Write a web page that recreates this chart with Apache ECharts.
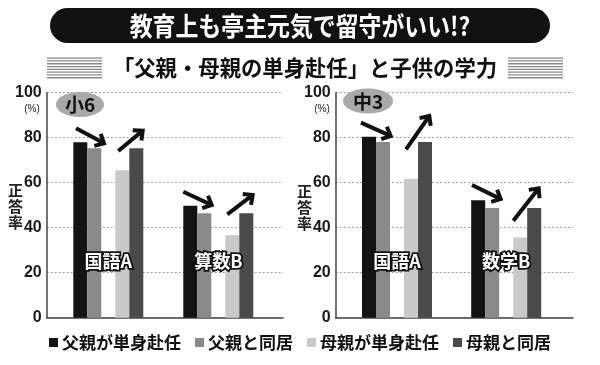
<!DOCTYPE html>
<html>
<head>
<meta charset="utf-8">
<script src="https://cdn.jsdelivr.net/npm/echarts@6/dist/echarts.min.js"></script>
<style>
html,body{margin:0;padding:0;background:#fff;}
#c{width:600px;height:365px;}
</style>
</head>
<body>
<div id="c"></div>
<script>
// ---- data ----
const titleText = '教育上も亭主元気で留守がいい!?';
const subtitleText = '「父親・母親の単身赴任」と子供の学力';
const primaryLabel = '小6';
const middleLabel = '中3';
const primaryCategories = ['国語A', '算数B'];
const middleCategories = ['国語A', '数学B'];
const seriesNames = ['父親が単身赴任', '父親と同居', '母親が単身赴任', '母親と同居'];
const primaryFatherAway = [78.0, 49.8];
const primaryFatherHome = [75.3, 46.4];
const primaryMotherAway = [65.5, 36.6];
const primaryMotherHome = [75.3, 46.4];
const middleFatherAway = [80.4, 52.2];
const middleFatherHome = [78.1, 48.8];
const middleMotherAway = [61.8, 35.7];
const middleMotherHome = [78.1, 48.8];
const yTicks = [0, 20, 40, 60, 80, 100];
const yAxisTitle = '正答率';
const unitText = '(%)';

// ---- styles ----
const colors = ['#131313', '#898989', '#c9c9c9', '#4a4a4a'];
const JP = '"Noto Sans CJK JP", "Noto Sans", sans-serif';
const NUM = '"Liberation Sans Narrow", "Liberation Sans", Arial, sans-serif';

const chart = echarts.init(document.getElementById('c'), null, {renderer: 'canvas'});

const TOP = 92.7, HEIGHT = 225;

function frameX(gi) {
  return {
    gridIndex: gi, type: 'value', min: 0, max: 1,
    axisLine: {show: true, onZero: false, lineStyle: {color: '#444', width: 1.5}},
    axisTick: {show: false}, axisLabel: {show: false}, splitLine: {show: false}
  };
}
function frameY(gi) {
  return {
    gridIndex: gi, type: 'value', min: yTicks[0], max: yTicks[yTicks.length - 1], interval: yTicks[1] - yTicks[0],
    axisLine: {show: true, lineStyle: {color: '#444', width: 1.5}},
    axisTick: {show: false},
    axisLabel: {show: true, margin: 5, color: '#1a1a1a', fontFamily: NUM, fontWeight: 'bold', fontSize: 16},
    splitLine: {show: true, lineStyle: {color: '#9a9a9a', type: [2, 2], width: 1}}
  };
}
function barX(gi, cats) {
  return {
    gridIndex: gi, type: 'category', data: cats, z: 10,
    axisLine: {show: false}, axisTick: {show: false}, splitLine: {show: false},
    offset: -66,
    axisLabel: {show: true, margin: 0, color: '#fff', fontFamily: JP, fontWeight: 'bold', fontSize: 18,
      textBorderColor: '#111', textBorderWidth: 3.5}
  };
}
function barY(gi) {
  return {gridIndex: gi, type: 'value', min: 0, max: 100, show: false, splitLine: {show: false}};
}

function makeSeries(axisIdx, arrays) {
  const out = [];
  const order = [0, 1, -1, 2, 3];
  order.forEach(k => {
    if (k < 0) {
      out.push({type: 'bar', name: 'spacer', xAxisIndex: axisIdx, yAxisIndex: axisIdx,
        data: arrays[0].map(() => null), barWidth: 14, barGap: '0%', silent: true,
        itemStyle: {color: 'transparent'}});
    } else {
      out.push({type: 'bar', name: seriesNames[k], xAxisIndex: axisIdx, yAxisIndex: axisIdx,
        data: arrays[k], barWidth: 14, barGap: '0%', itemStyle: {color: colors[k]}});
    }
  });
  return out;
}

function arrow(x1, y1, x2, y2) {
  const a = Math.atan2(y2 - y1, x2 - x1);
  const L = 10, w = 0.75;
  const h1 = [x2 - L * Math.cos(a - w), y2 - L * Math.sin(a - w)];
  const h2 = [x2 - L * Math.cos(a + w), y2 - L * Math.sin(a + w)];
  return [
    {type: 'polyline', shape: {points: [[x1, y1], [x2 - 1.5 * Math.cos(a), y2 - 1.5 * Math.sin(a)]]},
      style: {stroke: '#111', lineWidth: 4, fill: null}, z: 100},
    {type: 'polyline', shape: {points: [h1, [x2, y2], h2]},
      style: {stroke: '#111', lineWidth: 4, fill: null, lineJoin: 'miter', lineCap: 'butt'}, z: 100}
  ];
}

function stripes(x, w) {
  const g = [];
  for (let i = 0; i < 8; i++) {
    g.push({type: 'rect', shape: {x: x, y: 57.5 + i * 2.8, width: w, height: 1.3},
      style: {fill: '#8a8a8a'}});
  }
  return g;
}

const graphics = [
  {type: 'rect', shape: {x: 50, y: 8, width: 500, height: 35, r: 17.5}, style: {fill: '#111'}},
  {type: 'text', x: 300, y: 26, scaleX: 0.88, style: {text: titleText, fill: '#fff', font: 'bold 26px ' + JP,
    align: 'center', verticalAlign: 'middle'}},
  {type: 'text', x: 305, y: 68, scaleX: 0.97, style: {text: subtitleText, fill: '#111', font: 'bold 22px ' + JP,
    align: 'center', verticalAlign: 'middle'}},
  ...stripes(47, 55), ...stripes(508, 55),
  {type: 'ellipse', shape: {cx: 80, cy: 104.5, rx: 24, ry: 12.5}, style: {fill: '#a9a9a9'}, z: 50},
  {type: 'text', x: 80, y: 105, style: {text: primaryLabel, fill: '#111', font: 'bold 19px ' + JP,
    align: 'center', verticalAlign: 'middle'}, z: 51},
  {type: 'ellipse', shape: {cx: 368, cy: 101, rx: 25, ry: 12.5}, style: {fill: '#a9a9a9'}, z: 50},
  {type: 'text', x: 368, y: 101.5, style: {text: middleLabel, fill: '#111', font: 'bold 19px ' + JP,
    align: 'center', verticalAlign: 'middle'}, z: 51},
  {type: 'text', x: 32, y: 109, style: {text: unitText, fill: '#222', font: '10px ' + NUM,
    align: 'center', verticalAlign: 'middle'}},
  {type: 'text', x: 322, y: 109, style: {text: unitText, fill: '#222', font: '10px ' + NUM,
    align: 'center', verticalAlign: 'middle'}},
  {type: 'text', x: 15.5, y: 206, style: {text: yAxisTitle.split('').join('\n'), fill: '#222',
    font: 'bold 15px ' + JP, lineHeight: 16, align: 'center', verticalAlign: 'middle'}},
  {type: 'text', x: 304.5, y: 207, style: {text: yAxisTitle.split('').join('\n'), fill: '#222',
    font: 'bold 15px ' + JP, lineHeight: 16, align: 'center', verticalAlign: 'middle'}},
  ...arrow(76, 128.3, 104, 143.3), ...arrow(118.3, 151, 142.7, 130.7),
  ...arrow(183.3, 191.7, 211.7, 205), ...arrow(227.3, 214.3, 252.7, 195),
  ...arrow(361, 122.7, 390.7, 136), ...arrow(406, 149.3, 429.3, 116),
  ...arrow(472, 185, 500.7, 199), ...arrow(513.3, 220.7, 538.7, 188.3)
];

chart.setOption({
  animation: false,
  backgroundColor: '#fff',
  grid: [
    {left: 46.7, top: TOP, width: 236.3, height: HEIGHT},
    {left: 53.3, top: TOP, width: 220, height: HEIGHT},
    {left: 335.7, top: TOP, width: 237.3, height: HEIGHT},
    {left: 342.4, top: TOP, width: 218.4, height: HEIGHT}
  ],
  xAxis: [frameX(0), barX(1, primaryCategories), frameX(2), barX(3, middleCategories)],
  yAxis: [frameY(0), barY(1), frameY(2), barY(3)],
  legend: {
    data: seriesNames, left: 44, top: 329, icon: 'rect', itemWidth: 9, itemHeight: 9,
    itemGap: 14, selectedMode: false,
    textStyle: {fontFamily: JP, fontWeight: 'bold', fontSize: 17, color: '#111', padding: [0, 0, 0, -1]}
  },
  series: [
    ...makeSeries(1, [primaryFatherAway, primaryFatherHome, primaryMotherAway, primaryMotherHome]),
    ...makeSeries(3, [middleFatherAway, middleFatherHome, middleMotherAway, middleMotherHome])
  ],
  graphic: graphics
});
</script>
</body>
</html>
